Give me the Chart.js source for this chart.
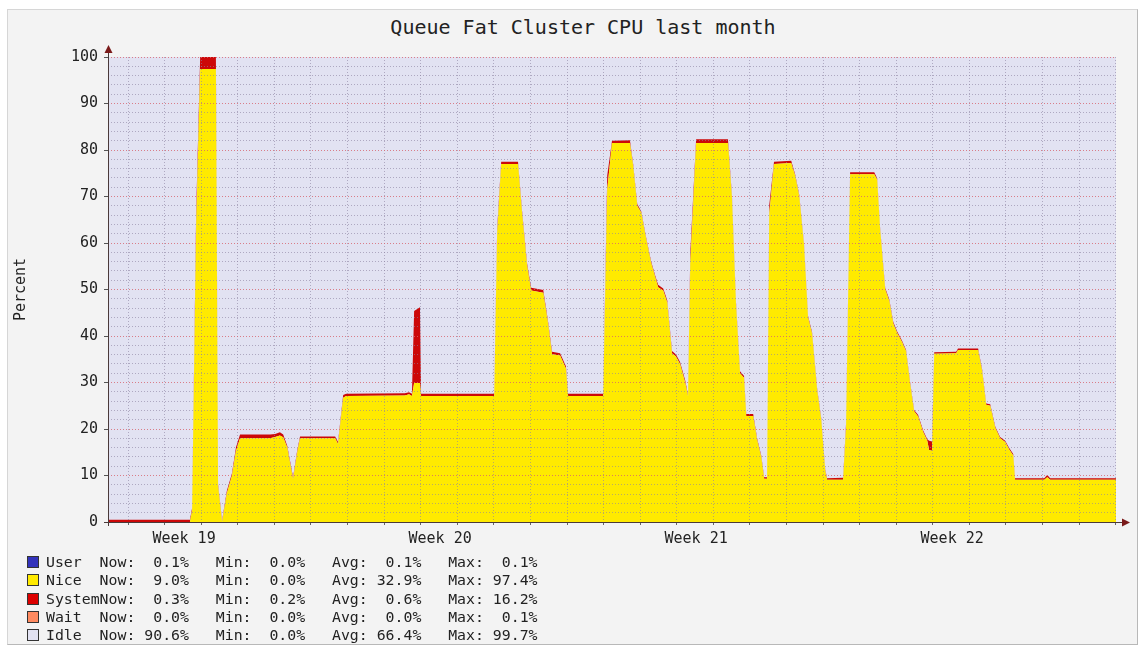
<!DOCTYPE html>
<html>
<head>
<meta charset="utf-8">
<title>Queue Fat Cluster CPU last month</title>
<script src="https://cdn.jsdelivr.net/npm/chart.js@4/dist/chart.umd.min.js"></script>
<style>
  body { margin: 0; background: #fff; }
  #frame {
    position: absolute; left: 7px; top: 9px; width: 1129px; height: 634px;
    background: #f3f3f3;
    border-left: 1px solid #d6d6d6; border-top: 1px solid #d6d6d6;
    border-right: 1px solid #b8b8b8; border-bottom: 1px solid #b8b8b8;
  }
  #title {
    position: absolute; left: 0; top: 15px; width: 1166px; text-align: center;
    font: 20px "DejaVu Sans Mono", monospace; color: #222;
  }
  #chart { position: absolute; left: 0; top: 0; }
  #legend {
    position: absolute; left: 27px; top: 553px; margin: 0;
    font: 14.85px/18.3px "DejaVu Sans Mono", monospace; color: #222; white-space: pre;
  }
  .sw {
    display: inline-block; width: 10px; height: 10px; border: 1px solid #333;
    margin-right: 7px; vertical-align: -1px;
  }
</style>
</head>
<body>
<div id="frame"></div>
<div id="title">Queue Fat Cluster CPU last month</div>
<canvas id="chart" width="1145" height="650"></canvas>
<pre id="legend"></pre>
<script>
// time in days from the left edge of the graph
const days = [
  0, 2.24, 2.30, 2.41, 2.52, 2.95, 3.01, 3.12, 3.25, 3.39, 3.50, 3.61,
  4.43, 4.57, 4.70, 4.79, 4.90, 5.06, 5.17, 5.25, 6.21, 6.29, 6.43, 6.51,
  8.12, 8.23, 8.31, 8.37, 8.53, 8.56, 10.56, 10.64, 10.75, 11.21, 11.32, 11.46,
  11.57, 11.90, 12.03, 12.14, 12.36, 12.52, 12.58, 13.54, 13.65, 13.78, 14.27, 14.36,
  14.47, 14.58, 14.71, 14.85, 14.96, 15.04, 15.18, 15.29, 15.42, 15.53, 15.64, 15.78,
  15.86, 15.92, 16.08, 16.95, 17.06, 17.17, 17.28, 17.39, 17.45, 17.64, 17.75, 17.86,
  17.94, 18.02, 18.08, 18.21, 18.68, 18.79, 18.90, 19.03, 19.14, 19.25, 19.39, 19.50,
  19.61, 19.66, 20.10, 20.18, 20.29, 20.95, 21.03, 21.11, 21.25, 21.36, 21.47, 21.58,
  21.71, 21.82, 21.93, 22.04, 22.15, 22.29, 22.40, 22.45, 22.53, 22.59, 23.19, 23.24,
  23.79, 23.90, 24.01, 24.12, 24.26, 24.39, 24.53, 24.64, 24.75, 24.80, 25.60, 25.68,
  25.76, 27.56
];

const nice = [
  0, 0, 2.5, 63.6, 97.4, 97.4, 7.7, 0, 6.2, 10, 15.3, 18,
  18, 18.3, 18.6, 18.2, 16, 9.2, 14.8, 18, 18, 16.8, 26.7, 27.1,
  27.2, 27.5, 27.1, 29.9, 29.9, 27.1, 27.1, 62, 77, 77, 66.5, 55,
  49.8, 49.3, 42.8, 36.1, 35.8, 33, 27.1, 27.1, 71.5, 81.5, 81.5, 76.5,
  68, 66.5, 61, 55.7, 52.7, 50.5, 49.8, 47.2, 36.3, 35.6, 34, 30,
  27, 55.5, 81.5, 81.5, 69.7, 46.9, 32, 31, 22.8, 22.8, 17.6, 14,
  9.3, 9.3, 66.3, 77, 77.2, 74.4, 70, 59.5, 44, 40.5, 28.3, 22,
  11, 9.1, 9.1, 20.5, 74.8, 74.8, 73.6, 63, 50, 47.6, 42.7, 40.6,
  38.7, 36.7, 29.8, 23.8, 22.7, 19.3, 17.5, 15.5, 15.3, 36.2, 36.3, 37,
  37, 32.5, 25.2, 25, 20.2, 18, 17.2, 15.6, 14.3, 9.1, 9.1, 9.6,
  9.1, 9.1
];

const system = [
  0.5, 0.5, 0.5, 2.8, 2.6, 2.6, 0.4, 0.3, 0.5, 0.5, 0.8, 0.8,
  0.8, 0.6, 0.7, 0.6, 0.4, 0.4, 0.4, 0.4, 0.4, 0.4, 0.6, 0.5,
  0.5, 0.4, 0.5, 15.5, 16.3, 0.5, 0.5, 1, 0.5, 0.5, 0.5, 0.5,
  0.6, 0.6, 0.4, 0.5, 0.5, 0.5, 0.5, 0.5, 3, 0.5, 0.6, 0.4,
  0.4, 0.3, 0.3, 0.3, 0.3, 0.5, 0.4, 0.5, 0.5, 0.4, 0.4, 0.5,
  0.3, 2.3, 0.8, 0.8, 0.4, 0.4, 0.4, 0.4, 0.4, 0.4, 0.3, 0.3,
  0.3, 0.3, 1.8, 0.5, 0.5, 0.3, 0.3, 0.3, 0.3, 0.3, 0.3, 0.3,
  0.3, 0.3, 0.4, 0.8, 0.4, 0.4, 0.3, 0.3, 0.3, 0.3, 0.3, 0.3,
  0.3, 0.3, 0.3, 0.3, 0.3, 0.3, 0.3, 2, 2, 0.3, 0.3, 0.3,
  0.3, 0.3, 0.3, 0.3, 0.3, 0.3, 0.3, 0.3, 0.3, 0.3, 0.3, 0.5,
  0.3, 0.3
];

const weekLabels = ["Week 19", "Week 20", "Week 21", "Week 22"];
const weekPos = [2.08, 9.08, 16.08, 23.08];
const firstDayLine = 0.55;
const xMax = 27.56;

// legend table
const legendNames = ["User", "Nice", "System", "Wait", "Idle"];
const legendColors = ["#3333bb", "#ffea00", "#dd0000", "#ff8a60", "#e2e2f2"];
const nowVals = [0.1, 9.0, 0.3, 0.0, 90.6];
const minVals = [0.0, 0.0, 0.2, 0.0, 0.0];
const avgVals = [0.1, 32.9, 0.6, 0.0, 66.4];
const maxVals = [0.1, 97.4, 16.2, 0.1, 99.7];

const fmt = v => v.toFixed(1).padStart(5, " ") + "%";
document.getElementById("legend").innerHTML = legendNames.map((n, i) =>
  '<span class="sw" style="background:' + legendColors[i] + '"></span>' +
  n.padEnd(6, " ") + "Now:" + fmt(nowVals[i]) + "   Min:" + fmt(minVals[i]) +
  "   Avg:" + fmt(avgVals[i]) + "   Max:" + fmt(maxVals[i])
).join("\n");

const dayLines = [];
for (let d = firstDayLine; d < xMax; d += 1) dayLines.push(d);
const yLines = [];
for (let v = 0; v <= 100; v += 2) yLines.push(v);

const mono = "'DejaVu Sans Mono', monospace";

// plot background + axis arrows
const frame = {
  id: "frame",
  beforeDraw(chart) {
    const a = chart.chartArea, ctx = chart.ctx;
    ctx.save();
    ctx.fillStyle = "#e2e2f2";
    ctx.fillRect(a.left, a.top, a.right - a.left, a.bottom - a.top);
    ctx.restore();
  },
  afterDraw(chart) {
    const a = chart.chartArea, ctx = chart.ctx;
    ctx.save();
    ctx.strokeStyle = "#4a3a3a";
    ctx.lineWidth = 1;
    ctx.beginPath();
    ctx.moveTo(a.left + 0.5, a.bottom + 4);
    ctx.lineTo(a.left + 0.5, a.top - 6);
    ctx.moveTo(a.left - 4, a.bottom + 0.5);
    ctx.lineTo(a.right + 8, a.bottom + 0.5);
    ctx.stroke();
    ctx.fillStyle = "#7a1a1a";
    ctx.beginPath();
    ctx.moveTo(a.left + 0.5, a.top - 12);
    ctx.lineTo(a.left - 3.5, a.top - 4);
    ctx.lineTo(a.left + 4.5, a.top - 4);
    ctx.fill();
    ctx.beginPath();
    ctx.moveTo(a.right + 14, a.bottom + 0.5);
    ctx.lineTo(a.right + 6, a.bottom - 3.5);
    ctx.lineTo(a.right + 6, a.bottom + 4.5);
    ctx.fill();
    ctx.restore();
  }
};

const pts = arr => arr.map((v, i) => ({ x: days[i], y: v }));

new Chart(document.getElementById("chart"), {
  type: "line",
  data: {
    datasets: [
      { label: "Nice", data: pts(nice), backgroundColor: "#ffea00", fill: "origin",
        borderWidth: 0, pointRadius: 0, tension: 0 },
      { label: "System", data: pts(system), backgroundColor: "#cc0808", fill: "-1",
        borderWidth: 0, pointRadius: 0, tension: 0 }
    ]
  },
  options: {
    responsive: false,
    animation: false,
    events: [],
    layout: { padding: { left: 0, top: 57, right: 29, bottom: 0 } },
    plugins: { legend: { display: false }, tooltip: { enabled: false }, title: { display: false } },
    scales: {
      x: {
        type: "linear", min: 0, max: xMax, weight: 0,
        afterBuildTicks: s => { s.ticks = dayLines.map(v => ({ value: v })); },
        ticks: { display: false },
        grid: { z: 1, color: "rgba(140,130,160,0.6)", tickColor: "#666", tickLength: 3 },
        border: { display: false, dash: [1, 2] },
        afterFit: s => { s.height = 4; }
      },
      xw: {
        type: "linear", min: 0, max: xMax, position: "bottom", weight: 1,
        afterBuildTicks: s => { s.ticks = weekPos.map(v => ({ value: v })); },
        ticks: { callback: (v, i) => weekLabels[i], autoSkip: false, maxRotation: 0,
                 padding: -4, color: "#222", font: { family: mono, size: 15 } },
        grid: { display: false },
        border: { display: false },
        afterFit: s => { s.height = 124; }
      },
      y: {
        stacked: true, min: 0, max: 100,
        afterBuildTicks: s => { s.ticks = yLines.map(v => ({ value: v })); },
        ticks: { callback: v => (v % 10 === 0 ? v : ""), autoSkip: false, padding: 6,
                 color: "#222", font: { family: mono, size: 15 } },
        grid: {
          z: 1,
          color: c => (c.tick && c.tick.value % 10 === 0 ? "rgba(215,100,110,0.8)" : "rgba(140,130,160,0.6)"),
          tickColor: c => (c.tick && c.tick.value % 10 === 0 ? "#555" : "rgba(0,0,0,0)"),
          tickLength: 4
        },
        border: { display: false, dash: [1, 2] },
        title: { display: true, text: "Percent", color: "#222", font: { family: mono, size: 15 },
                 padding: { top: 12, bottom: 4 } },
        afterFit: s => { s.width = 108; }
      }
    }
  },
  plugins: [frame]
});
</script>
</body>
</html>
